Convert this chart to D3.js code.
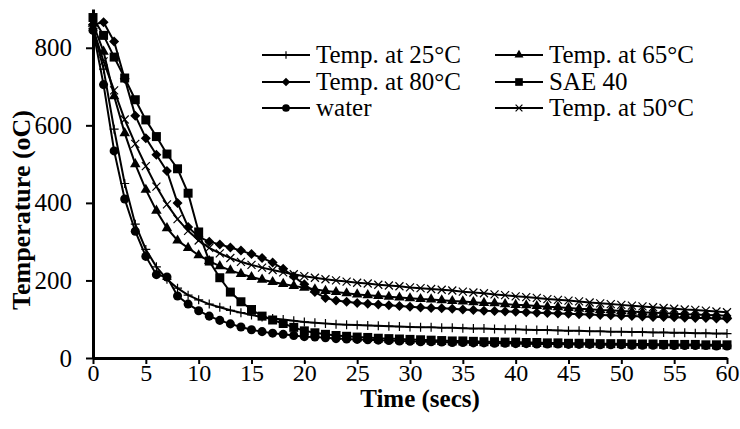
<!DOCTYPE html>
<html>
<head>
<meta charset="utf-8">
<script src="https://cdn.jsdelivr.net/npm/d3@7"></script>
<style>
  body { margin: 0; background: #fff; }
  text { font-family: "Liberation Serif", "Times New Roman", serif; fill: #000; }
</style>
</head>
<body>
<script>
// time in seconds
var time = [0,1,2,3,4,5,6,7,8,9,10,11,12,13,14,15,16,17,18,19,20,
	21,22,23,24,25,26,27,28,29,30,31,32,33,34,35,36,37,38,39,40,
	41,42,43,44,45,46,47,48,49,50,51,52,53,54,55,56,57,58,59,60];

// temperature readings (oC)
var temp25 = [850,745,590,450,345,280,235,203,180,162,150,139,131,123,117,111,106,102,99,96,93,
	91,89,87,86,85,84,83,82,81,80,79,79,78,78,77,76,76,75,74,74,
	73,72,72,71,70,70,69,69,68,68,67,67,66,66,65,65,64,64,63,63];
var temp65 = [862,790,675,580,500,434,380,335,303,284,265,250,237,226,217,209,202,196,191,186,181,
	177,173,170,167,164,162,160,158,156,154,152,151,149,147,146,144,142,141,139,137,
	136,134,132,131,129,127,126,124,123,121,120,118,117,116,114,113,112,111,110,109];
var temp80 = [860,866,816,720,625,567,524,482,400,338,312,300,293,285,277,268,258,246,230,210,190,
	170,155,148,145,142,140,138,136,134,132,130,129,128,127,125,124,122,121,120,119,
	118,117,116,115,114,113,112,111,110,109,108,107,106,106,105,104,103,103,102,101];
var sae40 = [878,832,776,722,666,614,571,526,488,425,325,250,207,170,145,125,108,98,89,79,70,
	65,61,58,56,54,53,51,50,49,48,47,46,45,44,44,43,42,42,41,41,
	40,40,39,39,38,38,38,37,37,37,36,36,36,35,35,35,35,34,34,34];
var water = [845,705,534,410,327,262,215,209,160,139,122,108,97,88,80,73,68,64,61,58,55,
	54,52,50,49,48,47,46,45,44,43,42,42,41,40,40,39,39,38,38,37,
	37,36,36,36,35,35,35,34,34,34,33,33,33,33,32,32,32,32,31,31];
var temp50 = [850,765,690,615,552,495,442,396,358,328,303,284,270,258,248,240,233,227,221,216,211,
	207,203,200,197,194,192,189,187,185,182,180,178,176,174,171,169,167,164,162,159,
	157,155,152,150,148,146,143,141,139,137,135,133,131,129,127,125,124,122,120,118];

var xTicks = [0,5,10,15,20,25,30,35,40,45,50,55,60];
var yTicks = [0,200,400,600,800];

// legend order (row by row)
var seriesNames = ["Temp. at 25°C", "Temp. at 65°C", "Temp. at 80°C", "SAE 40", "water", "Temp. at 50°C"];
var seriesValues = [temp25, temp65, temp80, sae40, water, temp50];
var seriesMarks = ["plus", "triangle", "diamond", "square", "circle", "cross"];

var width = 740,
	height = 429;

var svg = d3.select("body")
	.append("svg")
	.attr("width", width)
	.attr("height", height);

var x = d3.scaleLinear().domain([0, 60]).range([93, 727]);
var y = d3.scaleLinear().domain([0, 900]).range([358, 9]);

// marker shapes
function marker(sel, kind, s) {
	s = s || 1;
	if (kind == "plus") {
		sel.append("path")
			.attr("d", "M" + (-4.5*s) + ",0H" + (4.5*s) + "M0," + (-4.5*s) + "V" + (4.5*s))
			.attr("stroke", "#000").attr("stroke-width", 1.2).attr("fill", "none");
	} else if (kind == "cross") {
		var r = 4 * s;
		sel.append("path")
			.attr("d", "M" + (-r) + "," + (-r) + "L" + r + "," + r + "M" + (-r) + "," + r + "L" + r + "," + (-r))
			.attr("stroke", "#000").attr("stroke-width", 1.2).attr("fill", "none");
	} else if (kind == "diamond") {
		sel.append("path")
			.attr("d", d3.symbol(d3.symbolSquare, 50 * s * s))
			.attr("transform", "rotate(45)")
			.attr("fill", "#000");
	} else if (kind == "square") {
		sel.append("path").attr("d", d3.symbol(d3.symbolSquare, 81 * s * s)).attr("fill", "#000");
	} else if (kind == "triangle") {
		sel.append("path").attr("d", d3.symbol(d3.symbolTriangle, 48 * s * s)).attr("fill", "#000");
	} else {
		sel.append("path").attr("d", d3.symbol(d3.symbolCircle, 64 * s * s)).attr("fill", "#000");
	}
}

// axes
var xAxis = svg.append("g")
	.attr("transform", "translate(0," + y(0) + ")")
	.call(d3.axisBottom(x).tickValues(xTicks).tickSize(6).tickPadding(0).tickSizeOuter(0));

var yAxis = svg.append("g")
	.attr("transform", "translate(" + x(0) + ",0)")
	.call(d3.axisLeft(y).tickValues(yTicks).tickSize(7).tickPadding(14).tickSizeOuter(0));

svg.selectAll(".domain").attr("stroke", "#000").attr("stroke-width", 3);
svg.selectAll(".tick line").attr("stroke", "#000").attr("stroke-width", 2);
svg.selectAll(".tick text")
	.style("font-family", "'Liberation Serif', serif")
	.style("font-size", "25px")
	.attr("fill", "#000");
xAxis.selectAll(".tick text").style("font-size", "24px");

// axis titles
svg.append("text")
	.attr("transform", "translate(21,210) rotate(-90)")
	.attr("text-anchor", "middle")
	.attr("dy", "0.35em")
	.style("font-size", "26px")
	.style("font-weight", "bold")
	.text("Temperature (oC)");

svg.append("text")
	.attr("x", 420)
	.attr("y", 407)
	.attr("text-anchor", "middle")
	.style("font-size", "25px")
	.style("font-weight", "bold")
	.text("Time (secs)");

// series
var line = d3.line()
	.x(function(d, i) { return x(time[i]); })
	.y(function(d) { return y(d); });

var plot = svg.append("g");

seriesValues.forEach(function(vals, k) {
	var g = plot.append("g");
	g.append("path")
		.datum(vals)
		.attr("d", line)
		.attr("fill", "none")
		.attr("stroke", "#000")
		.attr("stroke-width", 2);
	g.selectAll(".pt")
		.data(vals)
		.enter().append("g")
		.attr("class", "pt")
		.attr("transform", function(d, i) { return "translate(" + x(time[i]) + "," + y(d) + ")"; })
		.each(function() { marker(d3.select(this), seriesMarks[k]); });
});

// legend
var legend = svg.append("g");
var colX = [262, 495];
var rowY = [55, 82, 108];

seriesNames.forEach(function(name, k) {
	var lx = colX[k % 2], ly = rowY[Math.floor(k / 2)];
	var item = legend.append("g").attr("transform", "translate(" + lx + "," + ly + ")");
	item.append("line")
		.attr("x1", 0).attr("x2", 48)
		.attr("stroke", "#000").attr("stroke-width", 2);
	var m = item.append("g").attr("transform", "translate(24,0)");
	marker(m, seriesMarks[k], 0.85);
	item.append("text")
		.attr("x", 54)
		.attr("y", 8)
		.style("font-size", "25px")
		.text(name);
});
</script>
</body>
</html>
